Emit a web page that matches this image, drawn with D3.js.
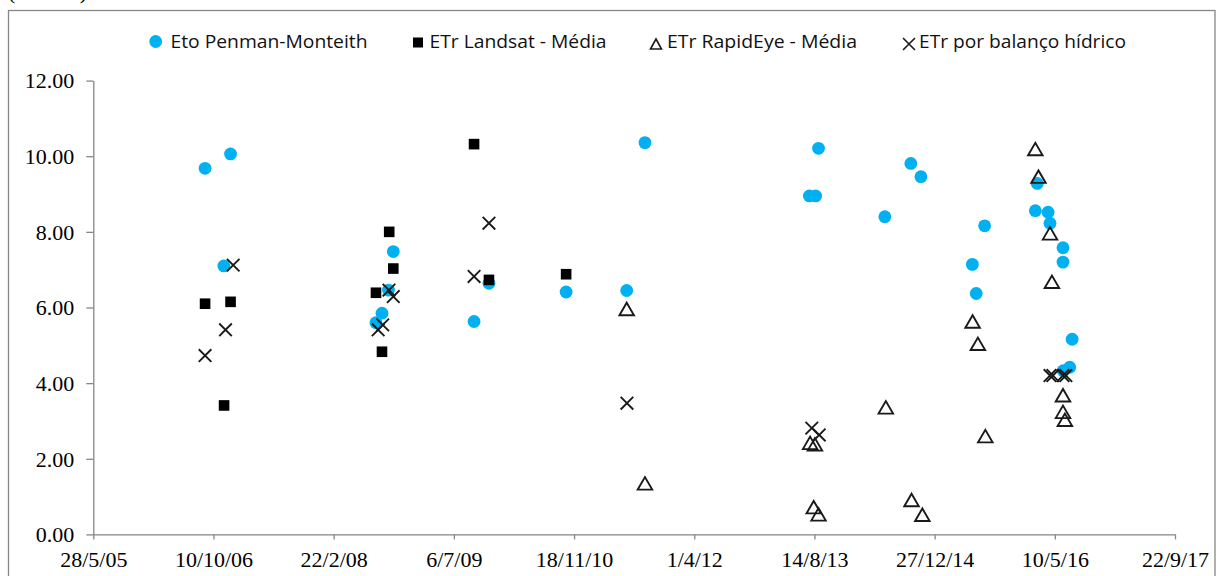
<!DOCTYPE html>
<html>
<head>
<meta charset="utf-8">
<script src="https://cdn.jsdelivr.net/npm/d3@7"></script>
<style>
  html, body { margin: 0; padding: 0; background: #ffffff; }
  svg { display: block; }
</style>
</head>
<body>
<svg id="chart" width="1219" height="576"></svg>
<script>
// Evapotranspiration series (mm), one date list and one value list per series
const etoDates = ["2006-09-05","2006-11-22","2006-12-20","2008-08-16","2008-09-10","2008-10-07","2008-10-27",
  "2009-09-28","2009-11-29","2010-10-16","2011-06-25","2011-09-09","2013-07-24","2013-08-19","2013-08-31",
  "2014-06-03","2014-09-19","2014-10-31","2015-06-02","2015-06-18","2015-07-23","2016-02-19","2016-02-27",
  "2016-04-12","2016-04-20","2016-06-13","2016-06-13","2016-06-14","2016-07-11","2016-07-21"];
const etoValues = [9.68,7.10,10.06,5.60,5.85,6.46,7.48,
  5.63,6.64,6.41,6.45,10.36,8.95,8.95,10.21,
  8.40,9.81,9.46,7.14,6.37,8.16,8.56,9.28,
  8.52,8.23,7.58,7.20,4.33,4.42,5.16];

const landsatDates = ["2006-09-05","2006-11-23","2006-12-20","2008-08-16","2008-09-10","2008-10-10","2008-10-27",
  "2009-09-28","2009-11-29","2010-10-16"];
const landsatValues = [6.10,3.41,6.15,6.39,4.83,8.00,7.03,10.32,6.73,6.88];

const rapidEyeDates = ["2011-06-25","2011-09-09","2013-07-27","2013-08-11","2013-08-16","2013-08-31",
  "2014-06-07","2014-09-22","2014-11-06","2015-06-03","2015-06-25","2015-07-26",
  "2016-02-19","2016-03-03","2016-04-20","2016-04-28","2016-06-13","2016-06-13","2016-06-21"];
const rapidEyeValues = [5.96,1.35,2.42,0.72,2.38,0.53,
  3.36,0.91,0.52,5.63,5.04,2.60,
  10.19,9.46,7.96,6.68,3.68,3.24,3.03];

const balancoDates = ["2006-09-05","2006-11-29","2006-12-31","2008-08-25","2008-09-13","2008-10-09","2008-10-27",
  "2009-09-28","2009-11-29","2011-06-26","2013-08-03","2013-09-03",
  "2016-04-20","2016-05-02","2016-06-13","2016-06-25"];
const balancoValues = [4.73,5.41,7.12,5.41,5.54,6.46,6.29,6.82,8.23,3.47,2.81,2.63,4.20,4.20,4.20,4.20];

const seriesNames = ["Eto Penman-Monteith","ETr Landsat - Média","ETr RapidEye - Média","ETr por balanço hídrico"];

// Axis ticks: every 500 days from the first date, 0 to 12 mm
const xStart = "2005-05-28";
const xTickStepDays = 500;
const xTickCount = 10;
const yTickValues = [0, 2, 4, 6, 8, 10, 12];
const unitLabel = "(mm d⁻¹)";

const parse = d3.utcParse("%Y-%m-%d");
const start = parse(xStart);
const xTicks = d3.range(xTickCount).map(i => d3.utcDay.offset(start, i * xTickStepDays));

const svg = d3.select("#chart");
const axisColor = "#868686";
const markColor = "#1a1a1a";
const blue = "#00b0f0";

const x = d3.scaleUtc().domain([xTicks[0], xTicks[xTicks.length - 1]]).range([93.3, 1175]);
const y = d3.scaleLinear().domain([0, 12]).range([534.4, 80.6]);

// Outer frame and the clipped unit label above it
svg.append("rect").attr("x", 8.5).attr("y", 10.5).attr("width", 1206.5).attr("height", 600)
  .attr("fill", "none").attr("stroke", axisColor).attr("stroke-width", 1.3);
svg.append("text").attr("x", 8).attr("y", -1.5)
  .attr("font-family", "'Liberation Serif', 'Times New Roman', serif").attr("font-size", 22)
  .attr("fill", "#000").text(unitLabel);

// Axes
const yAxis = svg.append("g").attr("transform", `translate(${x.range()[0]},0)`)
  .call(d3.axisLeft(y).tickValues(yTickValues).tickFormat(d3.format(".2f"))
    .tickSizeInner(7).tickSizeOuter(0).tickPadding(12));
const xAxis = svg.append("g").attr("transform", `translate(0,${y(0)})`)
  .call(d3.axisBottom(x).tickValues(xTicks).tickFormat(d3.utcFormat("%-d/%-m/%y"))
    .tickSizeInner(5).tickSizeOuter(0).tickPadding(12));

[yAxis, xAxis].forEach(g => {
  g.select(".domain").attr("stroke", axisColor).attr("stroke-width", 1.3);
  g.selectAll(".tick line").attr("stroke", axisColor).attr("stroke-width", 1.3);
  g.selectAll(".tick text").attr("fill", "#000")
    .attr("font-family", "'Liberation Serif', 'Times New Roman', serif").attr("font-size", 22);
});
yAxis.selectAll(".tick text").attr("dy", "0.33em");
xAxis.selectAll(".tick text").attr("dy", "0.71em");

// Marker drawers
const tri = (cx, cy, w, h) => `M${cx - w / 2},${cy + h / 2}L${cx},${cy - h / 2}L${cx + w / 2},${cy + h / 2}Z`;
const cross = (cx, cy, s) => `M${cx - s},${cy - s}L${cx + s},${cy + s}M${cx - s},${cy + s}L${cx + s},${cy - s}`;

const zipSeries = (dates, values) => dates.map((d, i) => ({ date: parse(d), value: values[i] }));
const eto = zipSeries(etoDates, etoValues);
const landsat = zipSeries(landsatDates, landsatValues);
const rapidEye = zipSeries(rapidEyeDates, rapidEyeValues);
const balanco = zipSeries(balancoDates, balancoValues);

const plot = svg.append("g");

plot.append("g").selectAll("circle").data(eto).join("circle")
  .attr("cx", d => x(d.date)).attr("cy", d => y(d.value)).attr("r", 6.4).attr("fill", blue);

plot.append("g").selectAll("rect").data(landsat).join("rect")
  .attr("x", d => x(d.date) - 5.3).attr("y", d => y(d.value) - 5.3)
  .attr("width", 10.6).attr("height", 10.6).attr("fill", "#000");

plot.append("g").selectAll("path").data(rapidEye).join("path")
  .attr("d", d => tri(x(d.date), y(d.value), 14.5, 12.5))
  .attr("fill", "none").attr("stroke", markColor).attr("stroke-width", 1.9).attr("stroke-linejoin", "miter");

plot.append("g").selectAll("path").data(balanco).join("path")
  .attr("d", d => cross(x(d.date), y(d.value), 6.3))
  .attr("fill", "none").attr("stroke", markColor).attr("stroke-width", 1.9);

// Legend
const legendFont = "'Open Sans', 'Noto Sans', sans-serif";
const legendItems = [
  { name: seriesNames[0], mx: 155.7, tx: 170.5, len: 197 },
  { name: seriesNames[1], mx: 418, tx: 429.5, len: 177 },
  { name: seriesNames[2], mx: 656, tx: 667, len: 190 },
  { name: seriesNames[3], mx: 909, tx: 919, len: 207 }
];
const legend = svg.append("g");
const ly = 41.5;
legend.append("circle").attr("cx", legendItems[0].mx).attr("cy", ly).attr("r", 6.4).attr("fill", blue);
legend.append("rect").attr("x", legendItems[1].mx - 5).attr("y", ly - 4).attr("width", 10).attr("height", 10).attr("fill", "#000");
legend.append("path").attr("d", tri(legendItems[2].mx, ly + 2.5, 11, 10))
  .attr("fill", "none").attr("stroke", markColor).attr("stroke-width", 1.6);
legend.append("path").attr("d", cross(legendItems[3].mx, ly + 2.5, 6))
  .attr("fill", "none").attr("stroke", markColor).attr("stroke-width", 1.6);
legend.selectAll("text").data(legendItems).join("text")
  .attr("x", d => d.tx).attr("y", 47.5)
  .attr("font-family", legendFont).attr("font-size", 19).attr("fill", "#111")
  .attr("textLength", d => d.len).attr("lengthAdjust", "spacingAndGlyphs")
  .text(d => d.name);
</script>
</body>
</html>
